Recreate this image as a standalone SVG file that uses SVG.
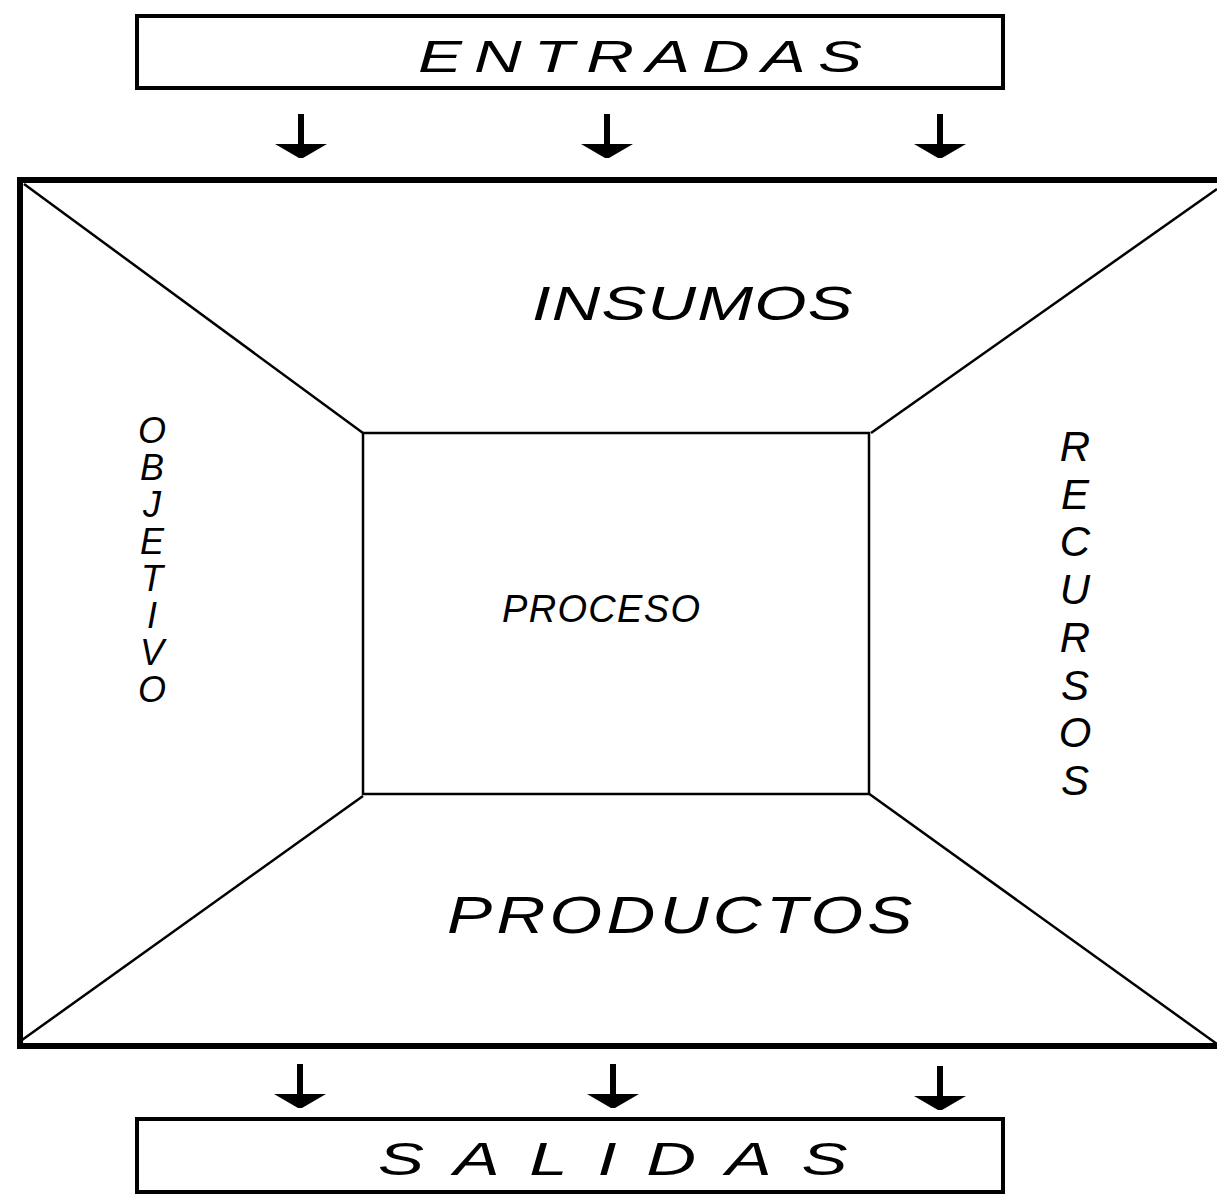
<svg xmlns="http://www.w3.org/2000/svg" width="1217" height="1203" viewBox="0 0 1217 1203">
<style>
.box{fill:none;stroke:#000;stroke-width:4}
.frame{fill:none;stroke:#000;stroke-width:6}
.thin{fill:none;stroke:#000;stroke-width:2.5}
.lbl{font-family:"Liberation Sans","DejaVu Sans",sans-serif;font-style:italic;font-weight:normal;fill:#000}
.arrow{fill:#000;stroke:none}
</style>
<defs>
<g id="arr">
<rect x="-3" y="0" width="6" height="34"/>
<path d="M-26,30 L26,30 L2,44 L-2,44 Z"/>
</g>
</defs>
<rect width="1217" height="1203" fill="#fff"/>
<g id="entradas">
<rect class="box" x="137" y="16" width="866" height="72"/>
<text class="lbl" transform="translate(418,72) scale(1.5,1)" font-size="44" textLength="296" lengthAdjust="spacing">ENTRADAS</text>
</g>
<g id="sistema">
<rect class="frame" x="20" y="180" width="1210" height="866"/>
</g>
<g id="insumos">
<line class="thin" x1="24" y1="184" x2="363" y2="433"/>
<line class="thin" x1="1217" y1="189" x2="871" y2="433"/>
<text class="lbl" transform="translate(532,320) scale(1.4,1)" font-size="48" textLength="229" lengthAdjust="spacing">INSUMOS</text>
</g>
<g id="proceso">
<rect class="thin" x="363" y="433" width="506" height="361" stroke-width="3"/>
<text class="lbl" x="502" y="622" font-size="38" textLength="198" lengthAdjust="spacing">PROCESO</text>
</g>
<g id="productos">
<line class="thin" x1="22" y1="1040" x2="363" y2="796"/>
<line class="thin" x1="1217" y1="1044" x2="868" y2="793"/>
<text class="lbl" transform="translate(447,933) scale(1.3,1)" font-size="52" textLength="358" lengthAdjust="spacing">PRODUCTOS</text>
</g>
<g id="objetivo" class="lbl" font-size="36" text-anchor="middle">
<text x="152" y="443">O</text>
<text x="152" y="480">B</text>
<text x="152" y="517">J</text>
<text x="152" y="554">E</text>
<text x="152" y="591">T</text>
<text x="152" y="628">I</text>
<text x="152" y="665">V</text>
<text x="152" y="702">O</text>
</g>
<g id="recursos" class="lbl" font-size="42" text-anchor="middle">
<text x="1075" y="461">R</text>
<text x="1075" y="509">E</text>
<text x="1075" y="556">C</text>
<text x="1075" y="604">U</text>
<text x="1075" y="652">R</text>
<text x="1075" y="700">S</text>
<text x="1075" y="747">O</text>
<text x="1075" y="795">S</text>
</g>
<g id="salidas">
<rect class="box" x="137" y="1119" width="866" height="73"/>
<text class="lbl" transform="translate(378,1175) scale(1.5,1)" font-size="46" textLength="313" lengthAdjust="spacing">SALIDAS</text>
</g>
<g id="connectors" class="arrow">
<use href="#arr" x="301" y="114"/>
<use href="#arr" x="607" y="114"/>
<use href="#arr" x="940" y="114"/>
<use href="#arr" x="300" y="1064"/>
<use href="#arr" x="613" y="1064"/>
<use href="#arr" x="940" y="1066"/>
</g>
</svg>
